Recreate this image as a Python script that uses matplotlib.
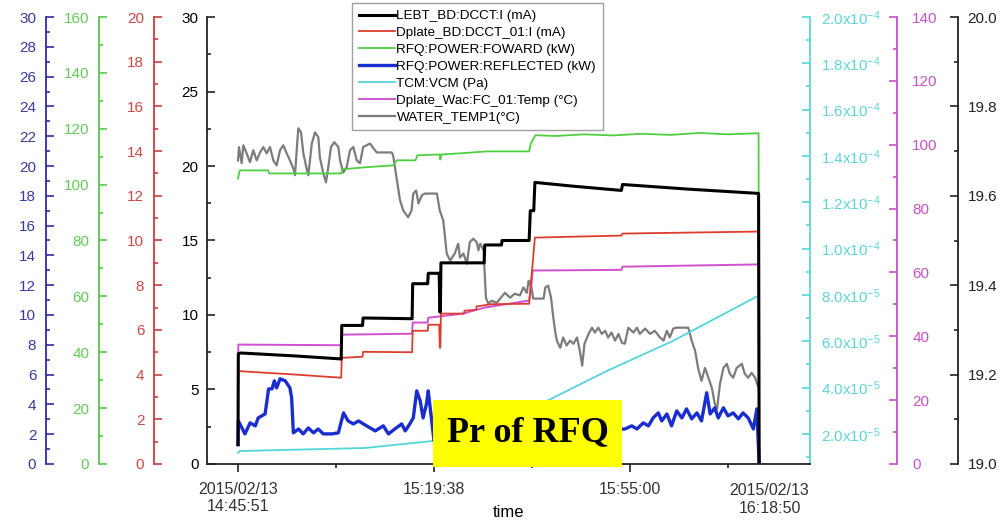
"""Multi-axis trend plot of the RFQ / LEBT conditioning run on 2015-02-13."""

import matplotlib

matplotlib.use("Agg")
import matplotlib.pyplot as plt  # noqa: E402
from matplotlib.patches import Rectangle  # noqa: E402
from matplotlib.ticker import FuncFormatter, MultipleLocator  # noqa: E402
import numpy as np  # noqa: E402

plt.rcParams["font.family"] = ["Liberation Sans", "DejaVu Sans"]

# ---------------------------------------------------------------- data
# time is minutes after 14:45:51
lebt_t = [0.0, 0.05, 0.5, 10.0, 17.9, 18.0, 21.6, 21.7, 30.2, 30.3, 32.9, 33.0,
          34.9, 35.0, 35.1, 35.2, 42.7, 42.8, 45.7, 45.8, 50.5, 50.7, 51.3, 51.5,
          58.0, 66.5, 66.7, 78.0, 90.3, 90.4]
lebt_ma = [1.3, 7.4, 7.45, 7.25, 7.05, 9.3, 9.3, 9.8, 9.75, 12.1, 12.1, 12.8,
           12.8, 10.2, 10.2, 13.5, 13.5, 14.7, 14.7, 15.0, 15.0, 17.0, 17.0, 18.9,
           18.65, 18.36, 18.76, 18.45, 18.16, 0.0]

dplate_t = [0.0, 0.05, 0.5, 10.0, 17.9, 18.0, 21.6, 21.7, 30.2, 30.3, 32.9, 33.0,
            34.9, 35.0, 35.1, 35.2, 39.2, 39.3, 41.3, 41.4, 44.0, 50.5, 50.8, 51.0,
            51.5, 66.5, 66.7, 90.3, 90.4]
dplate_ma = [2.8, 4.17, 4.15, 4.0, 3.86, 4.75, 4.8, 5.02, 5.0, 5.96, 5.96, 6.23,
             6.23, 5.2, 5.2, 6.73, 6.73, 6.86, 6.9, 7.05, 7.15, 7.17, 8.1, 8.65,
             10.13, 10.22, 10.31, 10.4, 0.0]

fwd_t = [0.0, 0.3, 5.2, 5.4, 17.9, 18.1, 22.0, 27.0, 27.5, 30.8, 31.1, 35.0, 35.1,
         35.3, 38.5, 43.2, 50.5, 50.8, 51.6, 55.0, 60.0, 65.0, 70.0, 75.0, 80.0,
         85.0, 90.3, 90.4]
fwd_kw = [102.2, 105.1, 105.1, 104.0, 104.0, 105.5, 106.2, 106.9, 108.7, 108.7,
          110.5, 110.8, 109.0, 110.8, 111.2, 111.9, 111.9, 114.8, 117.7, 117.4,
          118.0, 117.6, 118.2, 117.8, 118.5, 118.0, 118.4, 0.0]

refl_t = [0.0, 0.05, 1.2, 2.1, 3.0, 3.5, 4.7, 5.3, 5.9, 6.3, 6.7, 7.3, 8.2, 9.0,
          9.3, 9.6, 10.5, 11.3, 12.2, 13.1, 13.9, 14.8, 16.3, 17.4, 18.3, 19.1,
          20.0, 20.9, 22.3, 23.8, 25.2, 26.1, 27.2, 28.4, 29.0, 29.8, 30.4, 31.0,
          31.6, 32.1, 32.7, 33.0, 33.4, 34.0, 36.0, 40.0, 45.0, 50.0, 55.0, 60.0,
          65.0, 67.1, 68.3, 69.2, 70.3, 71.2, 72.0, 72.9, 73.5, 74.4, 75.2, 76.1,
          77.0, 77.8, 78.7, 79.6, 80.4, 81.3, 81.9, 82.7, 83.3, 84.2, 85.0, 85.9,
          86.8, 87.6, 88.5, 89.4, 90.0, 90.4]
refl_kw = [1.3, 2.9, 2.02, 2.76, 2.56, 3.09, 3.36, 5.04, 5.04, 5.58, 5.11, 5.72,
           5.58, 5.11, 4.44, 2.09, 2.35, 2.02, 2.42, 2.09, 2.35, 2.02, 2.02, 2.09,
           3.43, 2.89, 2.69, 2.89, 2.56, 2.22, 2.56, 2.02, 2.35, 2.69, 2.22, 2.69,
           3.09, 4.91, 4.24, 3.09, 4.04, 4.91, 3.56, 1.55, 2.0, 2.4, 2.1, 2.6, 2.2,
           2.5, 2.3, 2.35, 2.56, 2.35, 2.76, 2.56, 3.09, 3.43, 2.89, 3.36, 2.56,
           3.56, 3.09, 3.70, 3.03, 3.43, 2.89, 4.78, 3.36, 3.77, 3.09, 3.77, 3.23,
           3.43, 3.03, 3.43, 3.09, 2.35, 3.70, 0.0]

vcm_t = [0.0, 0.3, 22.0, 34.0, 42.0, 52.9, 64.0, 75.5, 81.4, 90.3]
vcm_pa = [1.18e-5, 1.26e-5, 1.39e-5, 1.70e-5, 2.2e-5, 3.34e-5, 4.72e-5, 6.02e-5,
          6.80e-5, 7.97e-5]

wac_t = [0.0, 0.05, 17.9, 18.0, 21.7, 30.2, 30.3, 32.9, 33.0, 39.0, 42.8, 50.5,
         50.9, 51.1, 66.5, 66.7, 90.3, 90.4]
wac_c = [6.3, 37.4, 37.2, 40.5, 40.6, 40.8, 44.3, 44.3, 45.8, 47.1, 49.0, 51.2,
         56.0, 60.6, 60.8, 61.8, 62.5, 0.0]

water_t = [0.0, 0.17, 0.64, 0.92, 1.5, 2.08, 2.65, 3.24, 3.82, 4.39,
           4.97, 5.55, 6.13, 6.7, 7.29, 7.86, 8.44, 9.02, 9.6, 9.89,
           10.18, 10.46, 10.93, 11.33, 11.9, 12.2, 12.8, 13.36, 13.93, 14.2,
           14.8, 15.26, 15.66, 16.13, 16.7, 17.4, 17.7, 18.27, 18.85, 19.43,
           20.0, 20.6, 21.16, 21.7, 22.3, 22.9, 23.5, 24.06, 26.66, 26.9,
           27.5, 28.1, 28.67, 29.5, 30.1, 30.4, 30.9, 31.3, 31.9, 32.4,
           34.5, 35.0, 35.6, 35.9, 36.2, 36.8, 37.6, 38.2, 38.5, 39.1,
           39.7, 40.2, 40.8, 41.4, 41.7, 42.0, 42.6, 43.0, 43.4, 44.0,
           44.9, 46.3, 47.2, 48.0, 48.9, 49.5, 50.1, 50.4, 50.9, 51.2,
           53.0, 53.3, 53.8, 54.3, 54.7, 55.0, 55.3, 55.9, 56.4, 57.0,
           57.6, 58.2, 58.8, 59.3, 59.7, 60.1, 60.8, 61.4, 61.9, 62.5,
           63.1, 63.7, 64.2, 64.8, 65.4, 66.0, 66.6, 67.1, 67.7, 68.6,
           69.2, 69.7, 70.6, 71.5, 72.3, 73.2, 73.8, 74.4, 74.9, 75.5,
           76.1, 78.1, 78.7, 79.3, 79.8, 80.4, 81.0, 81.6, 82.2, 82.7,
           83.1, 83.6, 84.2, 84.8, 85.3, 85.9, 86.5, 87.4, 87.9, 88.5,
           89.1, 89.7, 90.3]
water_c = [19.679, 19.709, 19.673, 19.713, 19.695, 19.675, 19.702, 19.679, 19.697, 19.709,
           19.695, 19.709, 19.679, 19.668, 19.702, 19.713, 19.695, 19.679, 19.661, 19.646,
           19.702, 19.751, 19.742, 19.695, 19.661, 19.646, 19.717, 19.742, 19.731, 19.686,
           19.650, 19.630, 19.664, 19.709, 19.720, 19.709, 19.679, 19.652, 19.664, 19.702,
           19.709, 19.679, 19.673, 19.709, 19.713, 19.717, 19.706, 19.697, 19.697, 19.691,
           19.641, 19.590, 19.567, 19.552, 19.567, 19.605, 19.612, 19.583, 19.601, 19.605,
           19.605, 19.567, 19.545, 19.507, 19.471, 19.455, 19.471, 19.493, 19.462, 19.471,
           19.448, 19.496, 19.504, 19.496, 19.478, 19.493, 19.478, 19.372, 19.359, 19.365,
           19.361, 19.383, 19.372, 19.381, 19.377, 19.395, 19.383, 19.410, 19.395, 19.370,
           19.370, 19.395, 19.399, 19.372, 19.327, 19.298, 19.276, 19.260, 19.283, 19.265,
           19.276, 19.269, 19.283, 19.253, 19.220, 19.269, 19.291, 19.305, 19.294, 19.305,
           19.291, 19.298, 19.283, 19.294, 19.276, 19.291, 19.271, 19.269, 19.305, 19.294,
           19.305, 19.291, 19.303, 19.291, 19.298, 19.283, 19.276, 19.298, 19.283, 19.303,
           19.305, 19.305, 19.276, 19.253, 19.215, 19.186, 19.215, 19.193, 19.170, 19.135,
           19.123, 19.179, 19.215, 19.224, 19.202, 19.193, 19.215, 19.224, 19.202, 19.193,
           19.204, 19.193, 19.170]

major_t = [0.0, 34.0, 68.0]
minor_t = [17.0, 51.0, 85.0]
major_labels = ["2015/02/13\n14:45:51", "15:19:38", "15:55:00"]
end_t = 92.2
end_label = "2015/02/13\n16:18:50"

# ---------------------------------------------------------------- styling
C_BLACK = "#000000"
C_RED = "#dc3d2c"
C_GREEN = "#4fcf40"
C_BLUE = "#1a2ecf"
C_CYAN = "#52d6d8"
C_MAGENTA = "#d050d0"
C_GRAY = "#7c7c7c"

TICK_FS = 11
MAJ_LEN, MIN_LEN = 5.8, 3.0

fig = plt.figure(figsize=(10, 5.2), dpi=100, facecolor="white")
ax = fig.add_axes([0.207, 0.1077, 0.603, 0.8596])
ax.patch.set_visible(False)
ax.set_xlim(-5.38, 99.22)


def add_axis(side, pos, color, label_color, lim, major, minor, pad, order):
    """Twin y axis with its spine moved to ``pos`` (axes fraction)."""
    tw = ax.twinx()
    tw.set_zorder(order)
    tw.patch.set_visible(False)
    for sp in tw.spines.values():
        sp.set_visible(False)
    sp = tw.spines[side]
    sp.set_visible(True)
    sp.set_position(("axes", pos))
    sp.set_color(color)
    sp.set_linewidth(1.3)
    tw.yaxis.set_ticks_position(side)
    tw.yaxis.set_label_position(side)
    tw.set_ylim(*lim)
    tw.yaxis.set_major_locator(MultipleLocator(major))
    tw.yaxis.set_minor_locator(MultipleLocator(minor))
    tw.tick_params(axis="y", which="both", direction="in", color=color,
                   labelcolor=label_color, labelsize=TICK_FS, pad=pad, width=1.2)
    tw.tick_params(axis="y", which="major", length=MAJ_LEN)
    tw.tick_params(axis="y", which="minor", length=MIN_LEN)
    return tw


ax_blue = add_axis("left", -0.267, "#2c2ca8", "#3a3a9c", (0, 30), 2, 1, 7, 6)
ax_green = add_axis("left", -0.179, "#52cc44", "#62cc55", (0, 160), 20, 10, 7, 4)
ax_red = add_axis("left", -0.0879, "#cc3c3c", "#c84848", (0, 20), 2, 1, 7, 5)
ax_cyan = add_axis("right", 1.0, "#5ad5d8", "#5cd4d6", (7e-6, 2.0e-4), 2e-5, 1e-5, 8, 2)
ax_mag = add_axis("right", 1.1443, "#cc4fcc", "#c850c8", (0, 140), 20, 10, 11, 3)
ax_gray = add_axis("right", 1.2454, "#222222", "#222222", (19.0, 20.0), 0.2, 0.1, 7, 1)
ax.set_zorder(7)


def sci_label(v, _pos):
    if v <= 0:
        return ""
    exp = int(np.floor(np.log10(v) + 1e-9))
    return r"$\mathregular{%.1fx10^{%d}}$" % (v / 10 ** exp, exp)


ax_cyan.yaxis.set_major_formatter(FuncFormatter(sci_label))
ax_gray.yaxis.set_major_formatter(FuncFormatter(lambda v, _p: f"{v:.1f}"))

# main axis: left spine + time axis
for side in ("top", "right"):
    ax.spines[side].set_visible(False)
for side in ("left", "bottom"):
    ax.spines[side].set_linewidth(1.3)
    ax.spines[side].set_color("#222222")
ax.set_ylim(0, 30)
ax.yaxis.set_major_locator(MultipleLocator(5))
ax.yaxis.set_minor_locator(MultipleLocator(2.5))
ax.tick_params(axis="y", which="both", direction="in", labelsize=TICK_FS, pad=6,
               color="#222222", width=1.2)
ax.tick_params(axis="y", which="major", length=MAJ_LEN)
ax.tick_params(axis="y", which="minor", length=MIN_LEN)
ax.set_xticks(major_t)
ax.set_xticklabels(major_labels, fontsize=11.5, color="#333333")
ax.set_xticks(minor_t, minor=True)
ax.tick_params(axis="x", which="both", direction="out", color="#222222", width=1.2, pad=7)
ax.tick_params(axis="x", which="major", length=MAJ_LEN)
ax.tick_params(axis="x", which="minor", length=MIN_LEN)
# last timestamp sits in the tick-label row without a tick of its own
ax.text(end_t, -0.043, end_label, transform=ax.get_xaxis_transform(),
        ha="center", va="top", fontsize=11.5, color="#333333")
ax.set_xlabel("time", fontsize=12)
ax.xaxis.label.set_va("bottom")
ax.xaxis.set_label_coords(0.5, -0.1245)

# ---------------------------------------------------------------- traces
l_water, = ax_gray.plot(water_t, water_c, color=C_GRAY, lw=1.6,
                        label="WATER_TEMP1(\u00b0C)")
l_vcm, = ax_cyan.plot(vcm_t, vcm_pa, color=C_CYAN, lw=1.3, label="TCM:VCM (Pa)")
l_wac, = ax_mag.plot(wac_t, wac_c, color=C_MAGENTA, lw=1.4,
                     label="Dplate_Wac:FC_01:Temp (\u00b0C)")
l_fwd, = ax_green.plot(fwd_t, fwd_kw, color=C_GREEN, lw=1.3,
                       label="RFQ:POWER:FOWARD (kW)")
l_dplate, = ax_red.plot(dplate_t, dplate_ma, color=C_RED, lw=1.3,
                        label="Dplate_BD:DCCT_01:I (mA)")
l_refl, = ax_blue.plot(refl_t, refl_kw, color=C_BLUE, lw=2.4,
                       label="RFQ:POWER:REFLECTED (kW)")
l_lebt, = ax.plot(lebt_t, lebt_ma, color=C_BLACK, lw=2.2, label="LEBT_BD:DCCT:I (mA)")

handles = [l_lebt, l_dplate, l_fwd, l_refl, l_vcm, l_wac, l_water]
leg = fig.legend(handles, [h.get_label() for h in handles], loc="upper left",
                 bbox_to_anchor=(0.352, 0.994), borderaxespad=0.0, fontsize=9.7,
                 frameon=True, fancybox=False, edgecolor="#888888", handlelength=2.7,
                 handletextpad=0.1, labelspacing=0.33, borderpad=0.5)
leg.get_frame().set_linewidth(1.0)
leg.set_zorder(20)

# highlighted caption over the reflected-power trace
fig.add_artist(Rectangle((0.433, 0.1019), 0.189, 0.1288, transform=fig.transFigure,
                         facecolor="#ffff00", edgecolor="none", zorder=30))
fig.text(0.5275, 0.1673, "Pr of RFQ", ha="center", va="center", fontsize=26,
         fontweight="bold", family="Liberation Serif", zorder=31)

fig.savefig("out.png", dpi=100, facecolor="white")
